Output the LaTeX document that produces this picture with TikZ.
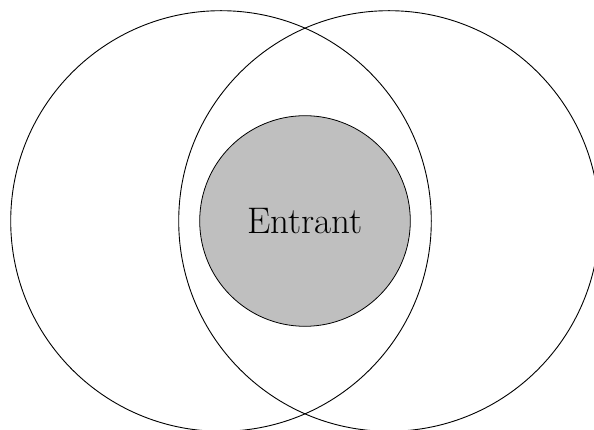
\documentclass[tikz,border=0pt]{standalone}
\begin{document}
\begin{tikzpicture}[x=1pt,y=1pt,
  bigcircle/.style={circle,draw=black,line width=0.9pt,minimum size=420.6pt,inner sep=0pt},
  entrantcircle/.style={circle,draw=black,line width=0.8pt,fill=black!25,minimum size=210.6pt,inner sep=0pt,font=\fontsize{37}{40}\selectfont}]
\useasboundingbox (0,0) rectangle (594,430);
\clip (0,0) rectangle (594,430);
\node[bigcircle] (left) at (221,209) {};
\node[bigcircle] (right) at (389,209) {};
\node[entrantcircle] (entrant) at (305,209) {Entrant};
\end{tikzpicture}
\end{document}
